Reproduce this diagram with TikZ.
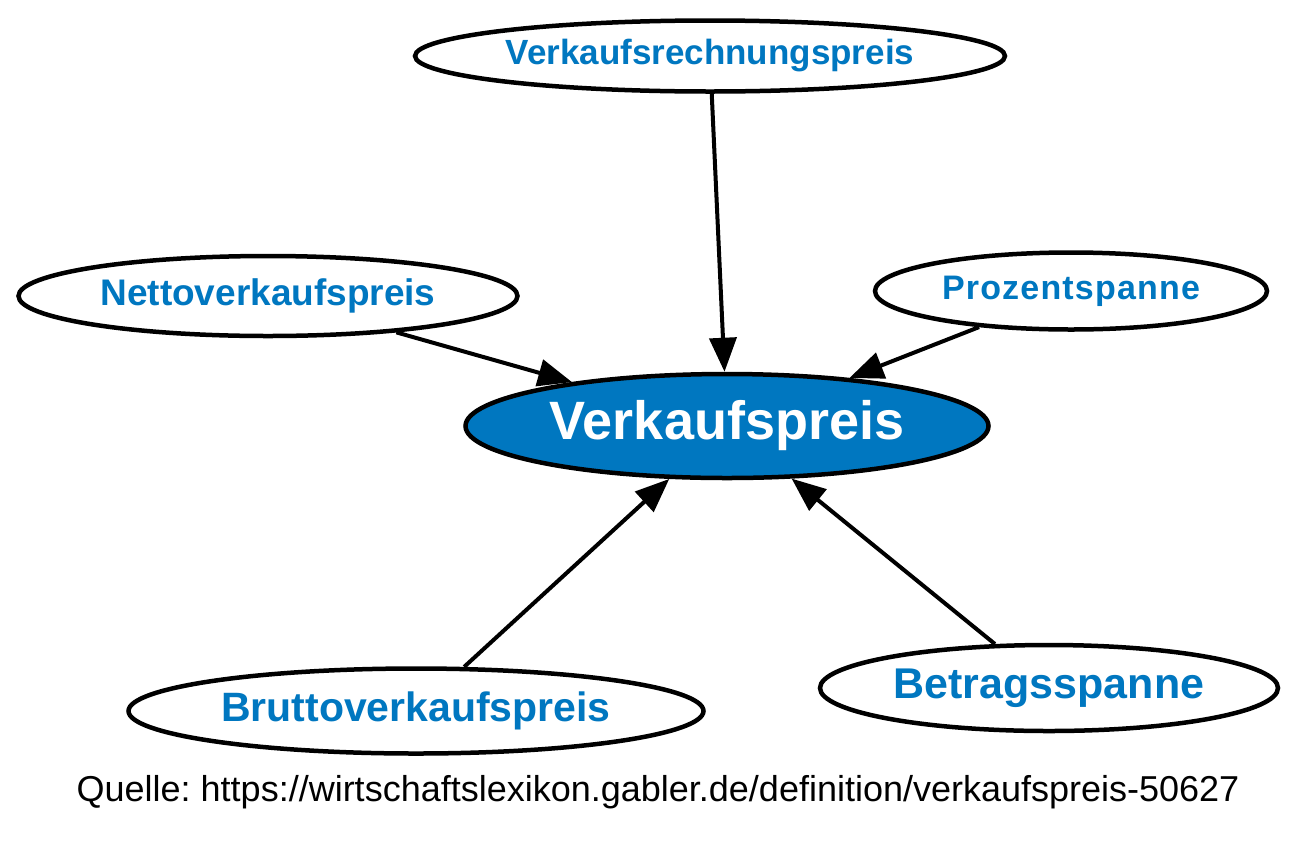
\documentclass[tikz,border=0pt]{standalone}
\usepackage{fontspec}
\setmainfont{Liberation Sans}
\usepackage{xcolor}
\definecolor{myblue}{HTML}{0077C0}
\usetikzlibrary{shapes.geometric,arrows.meta}
\tikzstyle{begriff} = [ellipse, draw, line width=4.5pt, fill=white, text=myblue, align=center, inner sep=0pt]
\tikzstyle{haupt} = [begriff, fill=myblue, text=white]
\tikzstyle{pfeil} = [draw, line width=4pt, -{Triangle[length=34pt, width=27pt]}]
\newcommand{\gr}[1]{\bfseries\fontsize{#1}{#1}\selectfont}

\begin{document}
\begin{tikzpicture}[x=1pt, y=-1pt]
    \useasboundingbox (0,0) rectangle (1300,852);

    % Nodes
    \node [haupt, minimum width=523pt, minimum height=104pt, font=\gr{54}] (verkaufspreis) at (727,426) {Verkaufspreis};
    \node [begriff, minimum width=590pt, minimum height=71pt, font=\gr{35}] (rechnungspreis) at (710,56) {Verkaufsrechnungspreis};
    \node [begriff, minimum width=499pt, minimum height=80pt, font=\gr{37}] (netto) at (268,296) {Nettoverkaufspreis};
    \node [begriff, minimum width=392pt, minimum height=77pt, font=\gr{34}\addfontfeature{LetterSpace=3.5}] (prozent) at (1071,291) {Prozentspanne};
    \node [begriff, minimum width=575pt, minimum height=85pt, font=\gr{41}] (brutto) at (416,711) {Bruttoverkaufspreis};
    \node [begriff, minimum width=458pt, minimum height=86pt, font=\gr{43}] (betrag) at (1049,688) {Betragsspanne};

    % arrows
    \draw [pfeil] (rechnungspreis) -- (verkaufspreis);
    \draw [pfeil] (netto) -- (verkaufspreis);
    \draw [pfeil] (prozent) -- (verkaufspreis);
    \draw [pfeil] (brutto) -- (verkaufspreis);
    \draw [pfeil] (betrag) -- (verkaufspreis);

    % source
    \node [font=\fontsize{36}{36}\selectfont\frenchspacing] (quelle) at (658,792) {Quelle: https://wirtschaftslexikon.gabler.de/definition/verkaufspreis-50627};
\end{tikzpicture}
\end{document}
